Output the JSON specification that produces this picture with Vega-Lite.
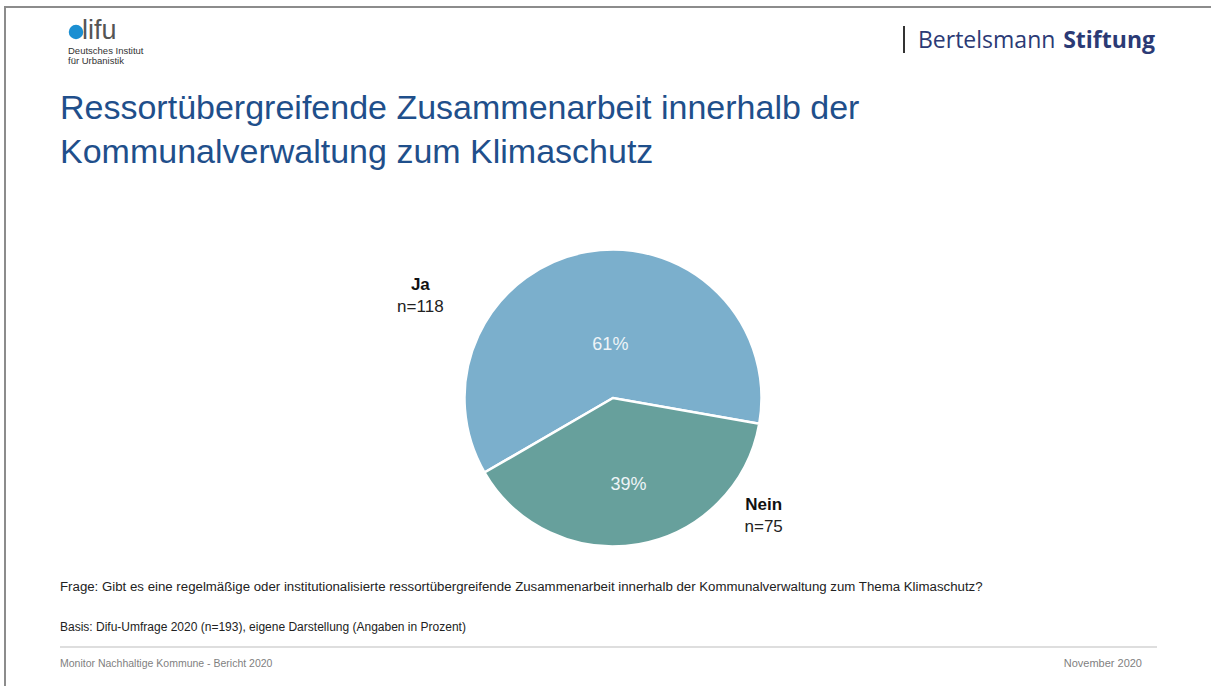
{
  "$schema": "https://vega.github.io/schema/vega-lite/v6.json",
  "width": 1106,
  "height": 396,
  "autosize": {"type": "none"},
  "padding": {"left": 60, "top": 200, "right": 45, "bottom": 90},
  "background": "white",
  "config": {"view": {"stroke": null}, "font": "Liberation Sans"},
  "data": {"values": [
    {"antwort": "Ja", "n": 118, "pct": "61%", "nlabel": "n=118"},
    {"antwort": "Nein", "n": 75, "pct": "39%", "nlabel": "n=75"}
  ]},
  "resolve": {"scale": {"theta": "independent"}},
  "layer": [
    {
      "encoding": {
        "theta": {"field": "n", "type": "quantitative", "stack": true, "scale": {"range": [1.745, 8.028]}},
        "order": {"field": "antwort", "sort": "descending"},
        "detail": {"field": "antwort"}
      },
      "layer": [
        {
          "mark": {"type": "arc", "outerRadius": 148.5, "stroke": "white", "strokeWidth": 2.5},
          "encoding": {
            "color": {"field": "antwort", "type": "nominal", "legend": null,
              "scale": {"domain": ["Ja", "Nein"], "range": ["#7bafcc", "#67a09c"]}}
          }
        },
        {
          "mark": {"type": "text", "radius": 55, "dx": 7, "dy": 1, "fontSize": 18, "color": "#eef4f7", "align": "center", "baseline": "middle"},
          "encoding": {"text": {"condition": {"test": "datum.antwort === 'Ja'", "field": "pct"}, "value": ""}}
        },
        {
          "mark": {"type": "text", "radius": 88, "fontSize": 18, "color": "#eef4f7", "align": "center", "baseline": "middle"},
          "encoding": {"text": {"condition": {"test": "datum.antwort === 'Nein'", "field": "pct"}, "value": ""}}
        }
      ]
    },
    {
      "encoding": {
        "theta": {"field": "n", "type": "quantitative", "stack": true, "scale": {"range": [0.921, 7.204]}},
        "order": {"field": "antwort", "sort": "descending"},
        "detail": {"field": "antwort"}
      },
      "layer": [
        {
          "mark": {"type": "text", "radius": 204, "dx": -21, "dy": -3, "fontSize": 17, "fontWeight": "bold", "color": "#111111", "align": "center", "baseline": "middle"},
          "encoding": {"text": {"field": "antwort"}}
        },
        {
          "mark": {"type": "text", "radius": 204, "dx": -21, "dy": 19, "fontSize": 17, "color": "#222222", "align": "center", "baseline": "middle"},
          "encoding": {"text": {"field": "nlabel"}}
        }
      ]
    },
    {
      "data": {"values": [{"t": ["Ressortübergreifende Zusammenarbeit innerhalb der", "Kommunalverwaltung zum Klimaschutz"]}]},
      "mark": {"type": "text", "x": 0, "y": -81, "align": "left", "baseline": "alphabetic", "fontSize": 34, "lineHeight": 44, "color": "#1f4f8b"},
      "encoding": {"text": {"field": "t"}}
    },
    {
      "data": {"values": [{"t": "Frage:  Gibt es eine regelmäßige oder institutionalisierte ressortübergreifende Zusammenarbeit innerhalb der Kommunalverwaltung zum Thema Klimaschutz?"}]},
      "mark": {"type": "text", "x": 0, "y": 391, "align": "left", "baseline": "alphabetic", "fontSize": 13.25, "color": "#222222"},
      "encoding": {"text": {"field": "t"}}
    },
    {
      "data": {"values": [{"t": "Basis:  Difu-Umfrage 2020 (n=193), eigene Darstellung (Angaben in Prozent)"}]},
      "mark": {"type": "text", "x": 0, "y": 431, "align": "left", "baseline": "alphabetic", "fontSize": 12, "color": "#222222"},
      "encoding": {"text": {"field": "t"}}
    },
    {
      "data": {"values": [{}]},
      "mark": {"type": "rule", "color": "#bdbdbd", "strokeWidth": 1},
      "encoding": {"x": {"value": 0}, "x2": {"value": 1097}, "y": {"value": 447}}
    },
    {
      "data": {"values": [{"t": "Monitor Nachhaltige Kommune  - Bericht 2020"}]},
      "mark": {"type": "text", "x": 0, "y": 467, "align": "left", "baseline": "alphabetic", "fontSize": 10.5, "color": "#7f7f7f"},
      "encoding": {"text": {"field": "t"}}
    },
    {
      "data": {"values": [{"t": "November 2020"}]},
      "mark": {"type": "text", "x": 1082, "y": 467, "align": "right", "baseline": "alphabetic", "fontSize": 11, "color": "#7f7f7f"},
      "encoding": {"text": {"field": "t"}}
    },
    {
      "data": {"values": [{}]},
      "mark": {"type": "rule", "color": "#8c8c8c", "strokeWidth": 2},
      "encoding": {"x": {"value": -56}, "x2": {"value": 1151}, "y": {"value": -193}}
    },
    {
      "data": {"values": [{}]},
      "mark": {"type": "rule", "color": "#8c8c8c", "strokeWidth": 2},
      "encoding": {"x": {"value": -55}, "y": {"value": -194}, "y2": {"value": 486}}
    },
    {
      "data": {"values": [{}]},
      "mark": {"type": "point", "x": 16, "y": -168, "size": 210, "filled": true, "opacity": 1, "color": "#1b8fd2"},
      "encoding": {}
    },
    {
      "data": {"values": [{"t": "lifu"}]},
      "mark": {"type": "text", "x": 22, "y": -161, "align": "left", "baseline": "alphabetic", "fontSize": 27, "color": "#555555"},
      "encoding": {"text": {"field": "t"}}
    },
    {
      "data": {"values": [{"t": "Deutsches Institut"}]},
      "mark": {"type": "text", "x": 8, "y": -146, "align": "left", "baseline": "alphabetic", "fontSize": 9.5, "color": "#333333"},
      "encoding": {"text": {"field": "t"}}
    },
    {
      "data": {"values": [{"t": "für Urbanistik"}]},
      "mark": {"type": "text", "x": 8, "y": -136, "align": "left", "baseline": "alphabetic", "fontSize": 9.5, "color": "#333333"},
      "encoding": {"text": {"field": "t"}}
    },
    {
      "data": {"values": [{}]},
      "mark": {"type": "rule", "color": "#333333", "strokeWidth": 2},
      "encoding": {"x": {"value": 844}, "y": {"value": -174}, "y2": {"value": -147}}
    },
    {
      "data": {"values": [{"t": "Bertelsmann"}]},
      "mark": {"type": "text", "x": 858, "y": -152, "align": "left", "baseline": "alphabetic", "font": "Open Sans", "fontSize": 23, "color": "#2b3a75"},
      "encoding": {"text": {"field": "t"}}
    },
    {
      "data": {"values": [{"t": "Stiftung"}]},
      "mark": {"type": "text", "x": 1095, "y": -152, "align": "right", "baseline": "alphabetic", "font": "Open Sans", "fontSize": 23, "fontWeight": "bold", "color": "#2b3a75"},
      "encoding": {"text": {"field": "t"}}
    }
  ]
}
